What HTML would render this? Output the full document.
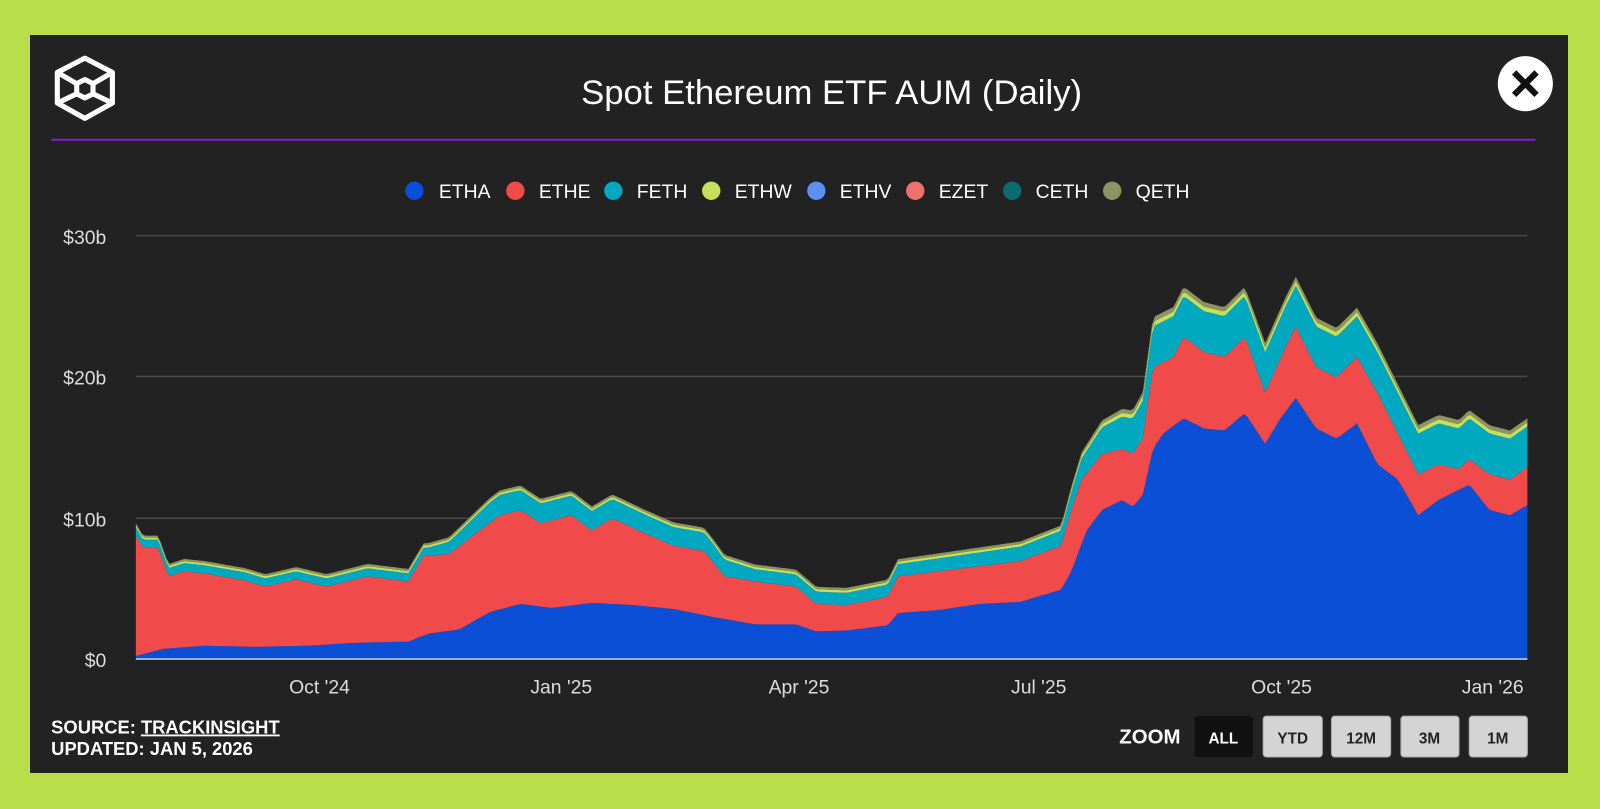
<!DOCTYPE html><html><head><meta charset="utf-8"><style>
body{margin:0;width:1600px;height:809px;background:#b8df4a;font-family:"Liberation Sans",sans-serif;overflow:hidden}
#c{position:absolute;left:30px;top:35px;width:1538px;height:738px;background:#222}
</style></head><body><div id="c"></div>
<svg id="s" width="1600" height="809" viewBox="0 0 1568 793" style="position:absolute;left:0;top:0" font-family="Liberation Sans, sans-serif">
<g fill="none" stroke="#fff" stroke-width="5" stroke-linejoin="round">
<polygon points="83,57 110,71 110,101 83,116 56,101 56,71"/>
<polygon points="83,78 91,82 91,92 83,96 75,92 75,82"/>
<line x1="56" y1="71" x2="75" y2="82"/><line x1="110" y1="71" x2="91" y2="82"/><line x1="56" y1="101" x2="75" y2="92"/><line x1="110" y1="101" x2="91" y2="92"/>
</g>
<text x="815" y="102" fill="#fff" font-size="34" text-anchor="middle">Spot Ethereum ETF AUM (Daily)</text>
<circle cx="1495" cy="82" r="27" fill="#fff"/>
<path d="M1484,71 L1506,93 M1506,71 L1484,93" stroke="#111" stroke-width="6"/>
<line x1="50" y1="137" x2="1505" y2="137" stroke="#8a1ad0" stroke-width="2"/>
<g font-size="19" fill="#fff">
<circle cx="406" cy="187" r="9" fill="#0b4fd6"/><text x="430" y="194">ETHA</text>
<circle cx="505" cy="187" r="9" fill="#f04a4a"/><text x="528" y="194">ETHE</text>
<circle cx="601" cy="187" r="9" fill="#00a9c0"/><text x="624" y="194">FETH</text>
<circle cx="697" cy="187" r="9" fill="#c5e05a"/><text x="720" y="194">ETHW</text>
<circle cx="800" cy="187" r="9" fill="#5b8ff0"/><text x="823" y="194">ETHV</text>
<circle cx="897" cy="187" r="9" fill="#f07070"/><text x="920" y="194">EZET</text>
<circle cx="992" cy="187" r="9" fill="#0b6b70"/><text x="1015" y="194">CETH</text>
<circle cx="1090" cy="187" r="9" fill="#8c9464"/><text x="1113" y="194">QETH</text>
</g>
<g stroke="#4a4a4a" stroke-width="1.5"><line x1="133" y1="231" x2="1497" y2="231"/><line x1="133" y1="369" x2="1497" y2="369"/><line x1="133" y1="508" x2="1497" y2="508"/></g>
<g fill="#ddd" font-size="19" text-anchor="end"><text x="104" y="239">$30b</text><text x="104" y="377">$20b</text><text x="104" y="516">$10b</text><text x="104" y="654">$0</text></g>
<g id="areas"></g>
<line x1="133" y1="646" x2="1497" y2="646" stroke="#8fb0e0" stroke-width="2"/>
<g fill="#ddd" font-size="19" text-anchor="middle"><text x="313" y="680">Oct '24</text><text x="550" y="680">Jan '25</text><text x="783" y="680">Apr '25</text><text x="1018" y="680">Jul '25</text><text x="1256" y="680">Oct '25</text><text x="1463" y="680">Jan '26</text></g>
<g fill="#fff" font-size="18" font-weight="bold"><text x="50" y="719">SOURCE: <tspan text-decoration="underline">TRACKINSIGHT</tspan></text><text x="50" y="740">UPDATED: JAN 5, 2026</text>
<text x="1097" y="729" font-size="20">ZOOM</text></g>
<rect x="1171" y="702" width="57" height="40" rx="3" fill="#111"/>
<g fill="#d4d4d4" stroke="#aaa"><rect x="1238" y="702" width="58" height="40" rx="3"/><rect x="1305" y="702" width="58" height="40" rx="3"/><rect x="1373" y="702" width="57" height="40" rx="3"/><rect x="1440" y="702" width="57" height="40" rx="3"/></g>
<g font-size="15" font-weight="bold" text-anchor="middle"><text x="1199" y="729" fill="#fff">ALL</text><text x="1267" y="729" fill="#222">YTD</text><text x="1334" y="729" fill="#222">12M</text><text x="1401" y="729" fill="#222">3M</text><text x="1468" y="729" fill="#222">1M</text></g>
</svg>
<script>
const A=[[133,643],[160,636],[200,633],[250,634],[300,633],[350,630],[400,629],[420,621],[450,617],[480,600],[510,592],[540,596],[580,591],[620,593],[660,597],[700,605],[740,612],[780,612],[800,619],[830,618],[870,613],[880,601],[920,598],[960,592],[1000,590],[1040,578],[1050,560],[1065,520],[1080,500],[1100,490],[1110,497],[1120,485],[1130,440],[1140,425],[1160,410],[1180,420],[1200,422],[1220,405],[1240,435],[1255,410],[1270,390],[1290,420],[1310,430],[1330,415],[1350,455],[1370,470],[1390,505],[1410,490],[1430,480],[1440,475],[1460,500],[1480,505],[1497,495]];
const E=[[133,525],[140,537],[155,537],[165,565],[180,560],[200,562],[240,569],[260,575],[290,568],[320,575],[360,565],[400,570],[415,545],[440,543],[470,520],[490,505],[510,500],[530,513],[560,505],[580,520],[600,508],[630,522],[660,535],[690,540],[710,565],[740,570],[780,575],[800,592],[830,593],[870,585],[880,565],[920,560],[960,555],[1000,550],[1040,535],[1050,500],[1060,470],[1080,445],[1100,440],[1110,445],[1120,430],[1130,360],[1150,350],[1160,330],[1180,345],[1200,350],[1220,330],[1240,385],[1260,340],[1270,320],[1290,360],[1310,370],[1330,350],[1350,385],[1370,425],[1390,465],[1410,455],[1430,460],[1440,450],[1460,465],[1480,470],[1497,458]];
function lerp(pts,x){for(let i=0;i<pts.length-1;i++){if(x>=pts[i][0]&&x<=pts[i+1][0]){const t=(x-pts[i][0])/(pts[i+1][0]-pts[i][0]);return pts[i][1]+t*(pts[i+1][1]-pts[i][1]);}}return pts[pts.length-1][1];}
const fo=[[133,8],[420,8],[480,20],[700,18],[740,12],[880,12],[1040,15],[1130,40],[1497,40]];
const oo=[[133,4],[1040,5],[1130,9],[1497,8]];
const xs=[];for(let x=133;x<=1497;x+=3)xs.push(x);if(xs[xs.length-1]!=1497)xs.push(1497);
const a=xs.map(x=>lerp(A,x)),e=xs.map(x=>lerp(E,x)),f=e.map((y,i)=>y-lerp(fo,xs[i])),t=f.map((y,i)=>y-lerp(oo,xs[i]));
function band(top,bot,col){let d='M'+xs.map((x,i)=>x+','+top[i].toFixed(1)).join(' L');for(let i=xs.length-1;i>=0;i--)d+=' L'+xs[i]+','+bot[i].toFixed(1);return `<path d="${d} Z" fill="${col}"/>`;}
const base=xs.map(()=>646);
const mid=t.map((y,i)=>(y+f[i])/2);
document.getElementById('areas').innerHTML=band(a,base,'#0b4fd6')+band(e,a,'#f04a4a')+band(f,e,'#00a9c0')+band(mid,f,'#c5e05a')+band(t,mid,'#8c9464');
</script></body></html>
